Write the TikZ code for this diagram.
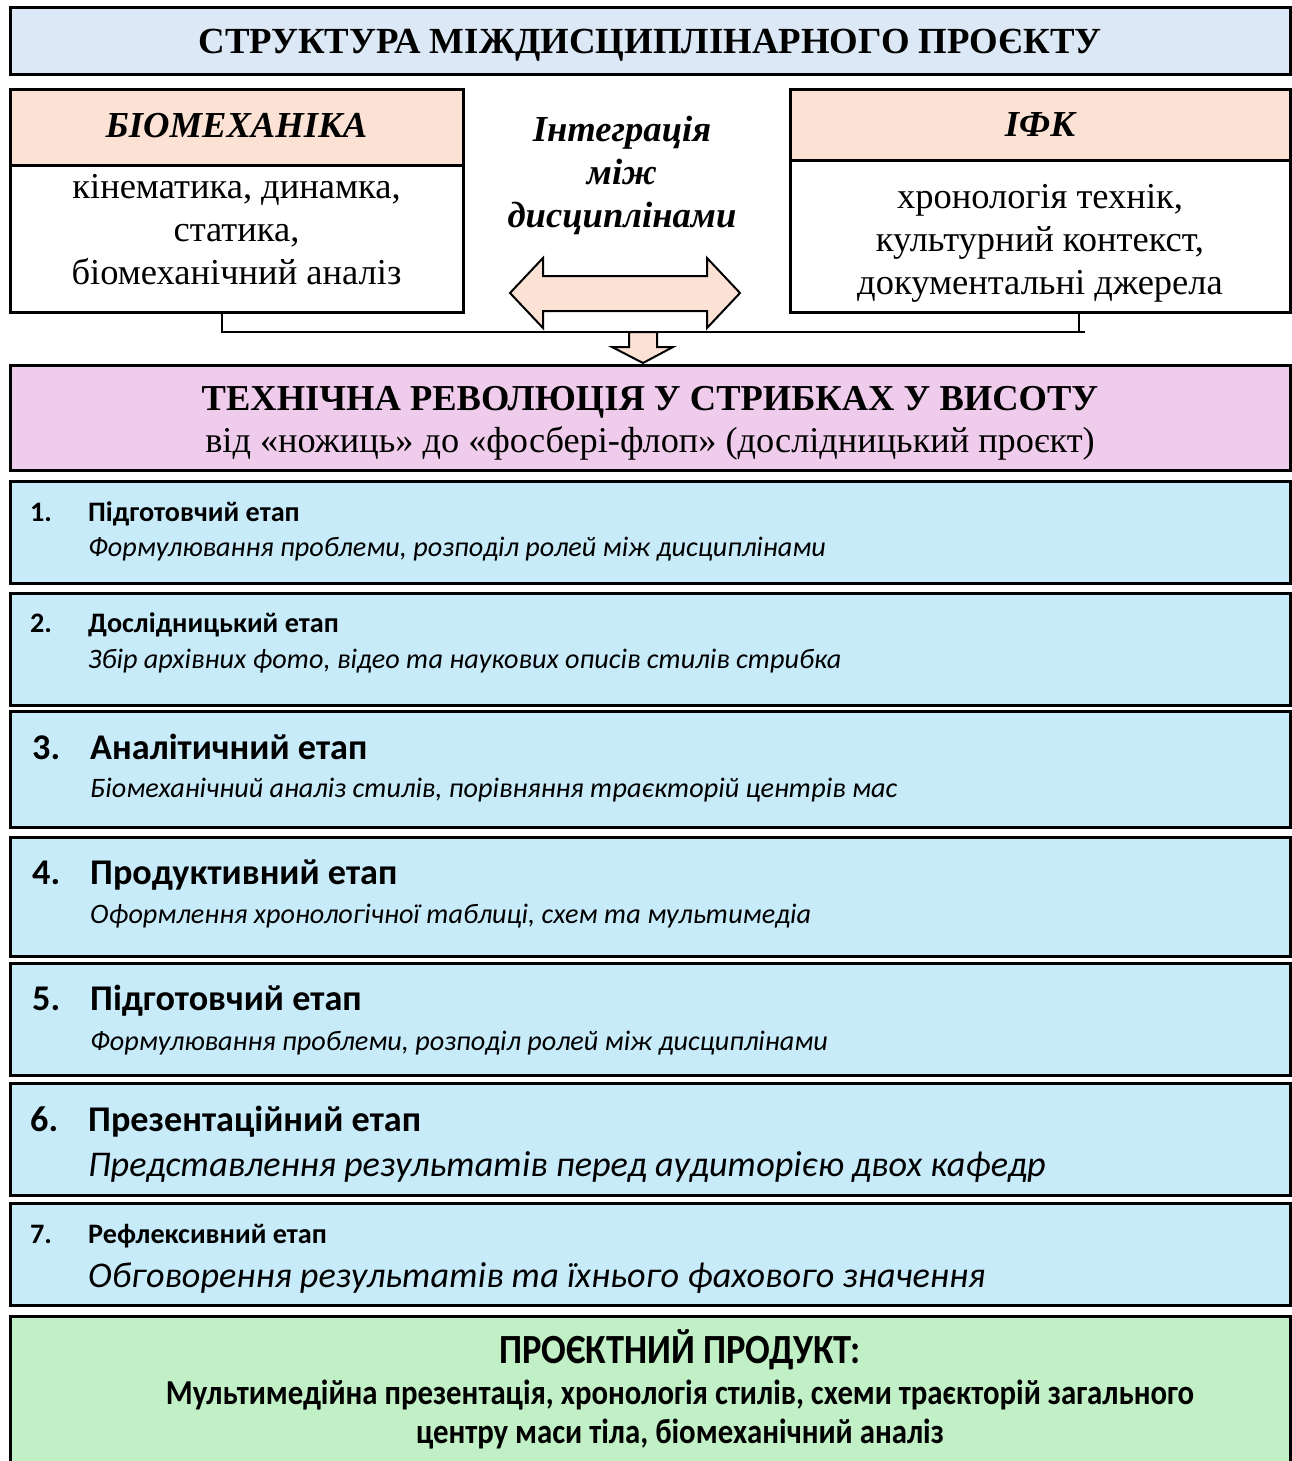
\documentclass[tikz,border=0pt]{standalone}
\usepackage{fontspec}
\setmainfont{Liberation Serif}
\setsansfont{Carlito}
\newfontfamily\condfont[FakeStretch=0.88]{Carlito}
\usetikzlibrary{positioning}

\definecolor{headblue}{HTML}{DCE8F5}
\definecolor{peach}{HTML}{FBE2D5}
\definecolor{pinkish}{HTML}{EFCCEB}
\definecolor{stageblue}{HTML}{C8EBFA}
\definecolor{productgreen}{HTML}{C1EFC6}

\begin{document}
\begin{tikzpicture}[x=1pt, y=-1pt,
    box/.style={draw, line width=3pt, inner sep=0pt, outer sep=0pt},
    wide box/.style={box, minimum width=1280pt},
    stage/.style={wide box, fill=stageblue},
    serif text/.style={align=center, inner sep=0pt, font=\fontsize{36.5}{43}\selectfont},
    small title/.style={anchor=west, inner sep=0pt, text height=0.7em, text depth=0.2em,
                        font=\sffamily\bfseries\fontsize{28.2}{32}\selectfont},
    big title/.style={small title, font=\sffamily\bfseries\fontsize{36.2}{40}\selectfont},
    small sub/.style={anchor=west, inner sep=0pt, text height=0.7em, text depth=0.2em,
                      font=\sffamily\itshape\fontsize{28.2}{32}\selectfont},
    big sub/.style={small sub, font=\sffamily\itshape\fontsize{36.2}{40}\selectfont}]
    \useasboundingbox (0,0) rectangle (1292,1461);

    % title
    \node[wide box, fill=headblue, minimum height=67pt, text height=24pt, text depth=0pt,
          font=\bfseries\fontsize{36.8}{40}\selectfont] (title) at (650,41.5)
          {СТРУКТУРА МІЖДИСЦИПЛІНАРНОГО ПРОЄКТУ};

    % the two disciplines
    \node[box, fill=peach, minimum width=453pt, minimum height=75pt, text height=24pt, text depth=3pt,
          font=\bfseries\itshape\fontsize{36.6}{40}\selectfont] (biohead) at (236.5,127.5) {БІОМЕХАНІКА};
    \node[box, fill=white, minimum width=453pt, minimum height=147pt] (biobody) [below=0pt of biohead] {};
    \node[serif text] (biotext) at ([yshift=9pt]biobody.center)
          {кінематика, динамка,\\статика,\\біомеханічний аналіз};
    \node[box, fill=peach, minimum width=500pt, minimum height=70pt, text height=24pt, text depth=0pt,
          font=\bfseries\itshape\fontsize{36.6}{40}\selectfont] (ifkhead) at (1040,125) {ІФК};
    \node[box, fill=white, minimum width=500pt, minimum height=152pt] (ifkbody) [below=0pt of ifkhead] {};
    \node[serif text] (ifktext) at ([yshift=-7pt]ifkbody.center)
          {хронологія технік,\\культурний контекст,\\документальні джерела};

    \node[serif text, font=\bfseries\itshape\fontsize{36.6}{43}\selectfont] (integ) at (622,175)
          {Інтеграція\\між\\дисциплінами};

    % arrows
    \draw[fill=peach, line width=2pt, line join=miter]
        (510,293) -- (543,258) -- (543,276) -- (707,276) -- (707,258) -- (740,293)
        -- (707,328) -- (707,311) -- (543,311) -- (543,328) -- cycle;
    \draw[fill=peach, line width=2pt, line join=miter]
        (629,332) -- (657,332) -- (657,347) -- (673,347) -- (643,363) -- (612,347)
        -- (629,347) -- cycle;

    \coordinate (bl) at (222,332);
    \coordinate (br) at (1085,332);
    \coordinate (brv) at (1079,332);
    \draw[line width=2.5pt] (bl |- biobody.south) -- (bl) -- (br);
    \draw[line width=2.5pt] (brv |- ifkbody.south) -- (brv);

    % project
    \node[wide box, fill=pinkish, minimum height=105pt] (pink) at (650,417.5) {};
    \node[serif text, font=\fontsize{36.3}{42}\selectfont] (pinktext) at ([yshift=-6pt]pink.center)
          {\textbf{\fontsize{36.5}{42}\selectfont ТЕХНІЧНА РЕВОЛЮЦІЯ У СТРИБКАХ У ВИСОТУ}\\
           від «ножиць» до «фосбері-флоп» (дослідницький проєкт)};

    % stages
    \node[stage, minimum height=102pt] (s1) [below=11pt of pink] {};
    \node[small title] (n1) at ([xshift=20pt, yshift=-38pt]s1.north west) {1.};
    \node[small title] (t1) at ([xshift=78pt, yshift=-38pt]s1.north west) {Підготовчий етап};
    \node[small sub] (d1) at ([xshift=78pt, yshift=-73pt]s1.north west)
        {Формулювання проблеми, розподіл ролей між дисциплінами};

    \node[stage, minimum height=112pt] (s2) [below=10pt of s1] {};
    \node[small title] (n2) at ([xshift=20pt, yshift=-37pt]s2.north west) {2.};
    \node[small title] (t2) at ([xshift=78pt, yshift=-37pt]s2.north west) {Дослідницький етап};
    \node[small sub] (d2) at ([xshift=78pt, yshift=-73pt]s2.north west)
        {Збір архівних фото, відео та наукових описів стилів стрибка};

    \node[stage, minimum height=116pt] (s3) [below=6pt of s2] {};
    \node[big title] (n3) at ([xshift=22pt, yshift=-46pt]s3.north west) {3.};
    \node[big title] (t3) at ([xshift=80pt, yshift=-46pt]s3.north west) {Аналітичний етап};
    \node[small sub] (d3) at ([xshift=80pt, yshift=-84pt]s3.north west)
        {Біомеханічний аналіз стилів, порівняння траєкторій центрів мас};

    \node[stage, minimum height=119pt] (s4) [below=10pt of s3] {};
    \node[big title] (n4) at ([xshift=22pt, yshift=-45pt]s4.north west) {4.};
    \node[big title] (t4) at ([xshift=80pt, yshift=-45pt]s4.north west) {Продуктивний етап};
    \node[small sub] (d4) at ([xshift=80pt, yshift=-84pt]s4.north west)
        {Оформлення хронологічної таблиці, схем та мультимедіа};

    \node[stage, minimum height=112pt] (s5) [below=7pt of s4] {};
    \node[big title] (n5) at ([xshift=22pt, yshift=-45pt]s5.north west) {5.};
    \node[big title] (t5) at ([xshift=80pt, yshift=-45pt]s5.north west) {Підготовчий етап};
    \node[small sub] (d5) at ([xshift=80pt, yshift=-85pt]s5.north west)
        {Формулювання проблеми, розподіл ролей між дисциплінами};

    \node[stage, minimum height=112pt] (s6) [below=8pt of s5] {};
    \node[big title] (n6) at ([xshift=20pt, yshift=-46pt]s6.north west) {6.};
    \node[big title] (t6) at ([xshift=78pt, yshift=-46pt]s6.north west) {Презентаційний етап};
    \node[big sub] (d6) at ([xshift=78pt, yshift=-91pt]s6.north west)
        {Представлення результатів перед аудиторією двох кафедр};

    \node[stage, minimum height=102pt] (s7) [below=8pt of s6] {};
    \node[small title] (n7) at ([xshift=20pt, yshift=-38pt]s7.north west) {7.};
    \node[small title] (t7) at ([xshift=78pt, yshift=-38pt]s7.north west) {Рефлексивний етап};
    \node[big sub] (d7) at ([xshift=78pt, yshift=-82pt]s7.north west)
        {Обговорення результатів та їхнього фахового значення};

    % product
    \node[wide box, fill=productgreen, minimum height=159pt] (prod) [below=11pt of s7] {};
    \node[font=\condfont\bfseries\fontsize{41.5}{44}\selectfont, inner sep=0pt] (ptitle)
        at ([yshift=-34pt]prod.north -| 680,0) {ПРОЄКТНИЙ ПРОДУКТ:};
    \node[align=center, font=\condfont\bfseries\fontsize{35}{39}\selectfont, inner sep=0pt] (ptext)
        at ([yshift=-99pt]prod.north -| 680,0)
        {Мультимедійна презентація, хронологія стилів, схеми траєкторій загального\\
         центру маси тіла, біомеханічний аналіз};
\end{tikzpicture}
\end{document}
